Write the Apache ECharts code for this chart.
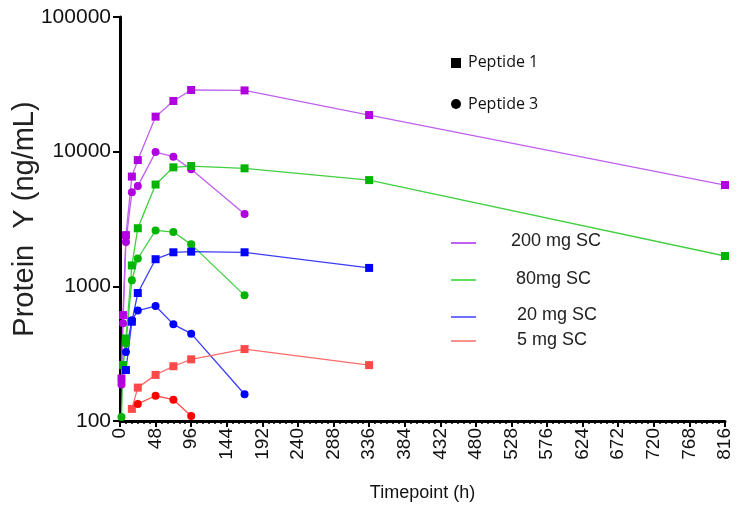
<!DOCTYPE html>
<html>
<head>
<meta charset="utf-8">
<script src="https://cdn.jsdelivr.net/npm/echarts@6/dist/echarts.min.js"></script>
<style>html,body{margin:0;padding:0;background:#fff}#c{width:738px;height:506px}</style>
</head>
<body>
<div id="c"></div>
<script>
// Timepoints (h)
var tP1_200 = [2, 4, 8, 16, 24, 48, 72, 96, 168, 336, 816];
var vP1_200 = [207, 612, 2400, 6530, 8660, 18200, 23800, 28700, 28500, 18700, 5650];
var tP3_200 = [2, 4, 8, 16, 24, 48, 72, 96, 168];
var vP3_200 = [187, 531, 2130, 4990, 5550, 9930, 9170, 7390, 3440];

var tP1_80 = [4, 8, 16, 24, 48, 72, 96, 168, 336, 816];
var vP1_80 = [260, 410, 1430, 2700, 5700, 7650, 7820, 7520, 6150, 1680];
var tP3_80 = [2, 4, 8, 16, 24, 48, 72, 96, 168];
var vP3_80 = [107, 262, 377, 1110, 1610, 2600, 2530, 2050, 857];

var tP1_20 = [8, 16, 24, 48, 72, 96, 168, 336];
var vP1_20 = [239, 546, 892, 1590, 1790, 1810, 1790, 1370];
var tP3_20 = [8, 16, 24, 48, 72, 96, 168];
var vP3_20 = [326, 560, 661, 714, 522, 445, 158];

var tP1_5 = [16, 24, 48, 72, 96, 168, 336];
var vP1_5 = [123, 177, 220, 255, 287, 342, 260];
var tP3_5 = [24, 48, 72, 96];
var vP3_5 = [134, 154, 144, 109];

var xTicks = [0, 48, 96, 144, 192, 240, 288, 336, 384, 432, 480, 528, 576, 624, 672, 720, 768, 816];
var doseLabels = ['200 mg SC', '80mg SC', '20 mg SC', '5 mg SC'];
var peptideLabels = ['Peptide 1', 'Peptide 3'];

function pairs(t, v) { return t.map(function (x, i) { return [x, v[i]]; }); }

var font = 'Arial, "Liberation Sans", sans-serif';
var lfont = '"Open Sans", "DejaVu Sans", sans-serif';
function mk(name, t, v, symbol, mColor, lColor) {
  return {
    name: name, type: 'line', data: pairs(t, v), symbol: symbol, symbolSize: 8,
    itemStyle: { color: mColor }, lineStyle: { color: lColor, width: 1.3 },
    emphasis: { disabled: true }, animation: false, z: 3
  };
}

var chart = echarts.init(document.getElementById('c'));
chart.setOption({
  animation: false,
  grid: { left: 120, right: 13, top: 17, bottom: 85, containLabel: false, outerBoundsMode: 'none' },
  xAxis: {
    type: 'value', min: 0, max: 816, interval: 48,
    axisLine: { lineStyle: { color: '#000', width: 3 } },
    axisTick: { length: 6, lineStyle: { color: '#000', width: 2 } },
    minorTick: { show: true, splitNumber: 6, length: 3, lineStyle: { color: '#000', width: 1.5 } },
    splitLine: { show: false },
    axisLabel: { rotate: 90, color: '#111', fontSize: 19, fontFamily: font, margin: 7,
      formatter: function (v) { return xTicks.indexOf(v) >= 0 ? String(v) : ''; } },
    name: 'Timepoint (h)', nameLocation: 'middle', nameGap: 63, nameMoveOverlap: false,
    nameTextStyle: { color: '#111', fontSize: 18, fontFamily: font }
  },
  yAxis: {
    type: 'log', min: 100, max: 100000, logBase: 10,
    axisLine: { show: true, lineStyle: { color: '#000', width: 3 } },
    axisTick: { show: true, length: 7, lineStyle: { color: '#000', width: 2 } },
    splitLine: { show: false },
    axisLabel: { color: '#111', fontSize: 21, fontFamily: font, margin: 9,
      formatter: function (v) { return String(Math.round(v)); } },
    name: 'Protein  Y (ng/mL)', nameLocation: 'middle', nameGap: 81, nameMoveOverlap: false,
    nameTextStyle: { color: '#222', fontSize: 29, fontFamily: font }
  },
  graphic: [
    { type: 'rect', shape: { x: 451, y: 58, width: 10, height: 10 }, style: { fill: '#000' } },
    { type: 'text', left: 468, top: 54, style: { text: peptideLabels[0], fontSize: 16, fontFamily: lfont, fill: '#111' } },
    { type: 'circle', shape: { cx: 456, cy: 104, r: 5 }, style: { fill: '#000' } },
    { type: 'text', left: 468, top: 96, style: { text: peptideLabels[1], fontSize: 16, fontFamily: lfont, fill: '#111' } },

    { type: 'line', shape: { x1: 451, y1: 243, x2: 476, y2: 243 }, style: { stroke: '#c060f0', lineWidth: 2 } },
    { type: 'text', left: 511, top: 232, style: { text: doseLabels[0], fontSize: 18, fontFamily: font, fill: '#222' } },
    { type: 'line', shape: { x1: 451, y1: 280, x2: 476, y2: 280 }, style: { stroke: '#60e060', lineWidth: 2 } },
    { type: 'text', left: 516, top: 270, style: { text: doseLabels[1], fontSize: 18, fontFamily: font, fill: '#222' } },
    { type: 'line', shape: { x1: 451, y1: 317, x2: 476, y2: 317 }, style: { stroke: '#7070ff', lineWidth: 2 } },
    { type: 'text', left: 517, top: 306, style: { text: doseLabels[2], fontSize: 18, fontFamily: font, fill: '#222' } },
    { type: 'line', shape: { x1: 451, y1: 341, x2: 476, y2: 341 }, style: { stroke: '#ff9090', lineWidth: 2 } },
    { type: 'text', left: 517, top: 331, style: { text: doseLabels[3], fontSize: 18, fontFamily: font, fill: '#222' } }
  ],
  series: [
    mk('P1 200', tP1_200, vP1_200, 'rect', '#b000e0', '#c060f0'),
    mk('P3 200', tP3_200, vP3_200, 'circle', '#b000e0', '#c060f0'),
    mk('P1 80', tP1_80, vP1_80, 'rect', '#00b400', '#40d040'),
    mk('P3 80', tP3_80, vP3_80, 'circle', '#00b400', '#40d040'),
    mk('P1 20', tP1_20, vP1_20, 'rect', '#0000ff', '#3c3cff'),
    mk('P3 20', tP3_20, vP3_20, 'circle', '#0000ff', '#3c3cff'),
    mk('P1 5', tP1_5, vP1_5, 'rect', '#ff4848', '#ff6a6a'),
    mk('P3 5', tP3_5, vP3_5, 'circle', '#ff0000', '#ff5050')
  ]
});
</script>
</body>
</html>
